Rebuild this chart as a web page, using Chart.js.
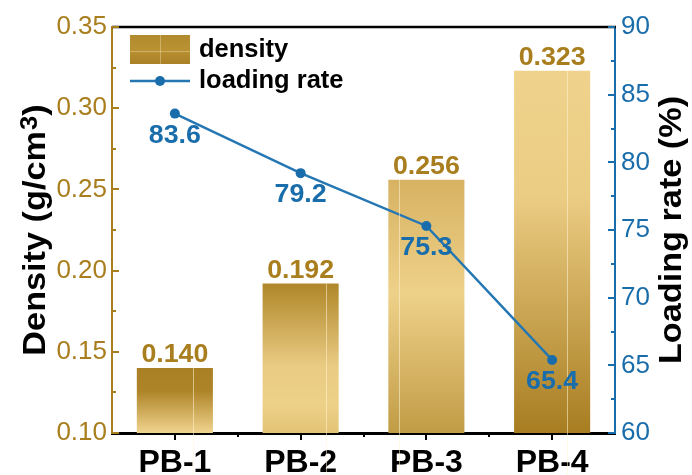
<!DOCTYPE html>
<html>
<head>
<meta charset="utf-8">
<script src="https://cdn.jsdelivr.net/npm/chart.js@4.4.1/dist/chart.umd.min.js"></script>
<style>
  html, body { margin: 0; padding: 0; background: #ffffff; }
  canvas { display: block; }
</style>
</head>
<body>
<canvas id="chart" width="692" height="475"></canvas>
<script>
// ---- data ----
const categories = ['PB-1', 'PB-2', 'PB-3', 'PB-4'];
const density = [0.140, 0.192, 0.256, 0.323];        // g/cm3
const loadingRate = [83.6, 79.2, 75.3, 65.4];        // %
const densityTicks = [0.10, 0.15, 0.20, 0.25, 0.30, 0.35];
const rateTicks = [60, 65, 70, 75, 80, 85, 90];

// ---- styling ----
const FONT = '"Liberation Sans", Arial, Helvetica, sans-serif';
const GOLD = '#a97e1e';
const BLUE = '#1a6dab';
const LINE_BLUE = '#2577b3';
const STRETCH = 1.07;   // slightly wide lettering for the annotations

// vertical shading of each bar, top (0) to bottom (1)
const barShades = [
  [[0, '#aa8024'], [0.35, '#ae8428'], [1, '#f0d48e']],
  [[0, '#b08729'], [0.55, '#e9cb83'], [0.8, '#eed189'], [1, '#e3c476']],
  [[0, '#d7b262'], [0.45, '#eed189'], [1, '#c19c46']],
  [[0, '#efd38c'], [0.35, '#ebcc83'], [1, '#a87d21']]
];
// position of the faint highlight streak across each bar (fraction of width)
const barStreak = [0.74, 0.83, 0.14, 0.70];

function barFill(ctx) {
  const chart = ctx.chart;
  const i = ctx.dataIndex;
  const ys = chart.scales.y;
  if (!ys || i === undefined || !chart.chartArea) return '#d4b060';
  const top = ys.getPixelForValue(density[i]);
  const bottom = ys.getPixelForValue(ys.min);
  const g = chart.ctx.createLinearGradient(0, top, 0, bottom);
  barShades[i].forEach(([o, c]) => g.addColorStop(o, c));
  return g;
}

// text drawn a little wider than its nominal size
function wideText(ctx, text, x, y, stretch) {
  ctx.save();
  ctx.translate(x, y);
  ctx.scale(stretch, 1);
  ctx.fillText(text, 0, 0);
  ctx.restore();
}

// inward tick marks, top frame line, streaks on bars
const framePlugin = {
  id: 'frame',
  afterDatasetsDraw(chart) {
    const ctx = chart.ctx;
    ctx.save();
    chart.getDatasetMeta(0).data.forEach((bar, i) => {
      const left = bar.x - bar.width / 2;
      const sx = Math.round(left + bar.width * barStreak[i]) + 0.5;
      ctx.strokeStyle = 'rgba(255, 244, 214, 0.55)';
      ctx.lineWidth = 1;
      ctx.beginPath();
      ctx.moveTo(sx, bar.y);
      ctx.lineTo(sx, bar.base);
      ctx.stroke();
    });
    ctx.restore();
  },
  afterDraw(chart) {
    const { ctx, chartArea: a } = chart;
    const x = chart.scales.x, y = chart.scales.y, y2 = chart.scales.y2;
    ctx.save();
    ctx.lineCap = 'butt';

    // top frame
    ctx.strokeStyle = '#000000';
    ctx.lineWidth = 2.5;
    ctx.beginPath();
    ctx.moveTo(a.left, a.top);
    ctx.lineTo(a.right + 1, a.top);
    ctx.stroke();

    // left axis ticks (inward)
    ctx.strokeStyle = GOLD;
    ctx.lineWidth = 2;
    densityTicks.forEach((v, i) => {
      const py = Math.round(y.getPixelForValue(v));
      ctx.beginPath(); ctx.moveTo(a.left, py); ctx.lineTo(a.left + 7, py); ctx.stroke();
      if (i < densityTicks.length - 1) {
        const pm = Math.round(y.getPixelForValue((v + densityTicks[i + 1]) / 2));
        ctx.beginPath(); ctx.moveTo(a.left, pm); ctx.lineTo(a.left + 4, pm); ctx.stroke();
      }
    });

    // right axis ticks (inward)
    ctx.strokeStyle = BLUE;
    rateTicks.forEach((v, i) => {
      const py = Math.round(y2.getPixelForValue(v));
      ctx.beginPath(); ctx.moveTo(a.right, py); ctx.lineTo(a.right - 7, py); ctx.stroke();
      if (i < rateTicks.length - 1) {
        const pm = Math.round(y2.getPixelForValue((v + rateTicks[i + 1]) / 2));
        ctx.beginPath(); ctx.moveTo(a.right, pm); ctx.lineTo(a.right - 4, pm); ctx.stroke();
      }
    });

    // bottom axis ticks (outward): major at categories, minor between
    ctx.strokeStyle = '#000000';
    ctx.lineWidth = 2;
    categories.forEach((c, i) => {
      const px = Math.round(x.getPixelForValue(i));
      ctx.beginPath(); ctx.moveTo(px, a.bottom); ctx.lineTo(px, a.bottom + 7); ctx.stroke();
      if (i > 0) {
        const pm = Math.round((x.getPixelForValue(i - 1) + x.getPixelForValue(i)) / 2);
        ctx.beginPath(); ctx.moveTo(pm, a.bottom); ctx.lineTo(pm, a.bottom + 4); ctx.stroke();
      }
    });
    ctx.restore();
  }
};

// value labels on bars and points
const valueLabels = {
  id: 'valueLabels',
  afterDatasetsDraw(chart) {
    const ctx = chart.ctx;
    ctx.save();
    ctx.font = 'bold 25px ' + FONT;
    ctx.textAlign = 'center';

    ctx.fillStyle = GOLD;
    ctx.textBaseline = 'alphabetic';
    chart.getDatasetMeta(0).data.forEach((bar, i) => {
      wideText(ctx, density[i].toFixed(3), bar.x, bar.y - 6, STRETCH);
    });

    ctx.fillStyle = BLUE;
    ctx.textBaseline = 'middle';
    chart.getDatasetMeta(1).data.forEach((pt, i) => {
      wideText(ctx, loadingRate[i].toFixed(1), pt.x, pt.y + 22, STRETCH);
    });
    ctx.restore();
  }
};

// axis titles (with superscript) and legend
const annotations = {
  id: 'annotations',
  afterDraw(chart) {
    const { ctx, chartArea: a } = chart;
    const midY = (a.top + a.bottom) / 2;
    ctx.save();

    // left title: Density (g/cm³)
    const big = 'bold 32px ' + FONT;
    const sup = 'bold 24px ' + FONT;
    ctx.fillStyle = '#000000';
    ctx.textBaseline = 'alphabetic';
    ctx.textAlign = 'left';
    ctx.font = big;
    const p1 = 'Density (g/cm', p3 = ')';
    const w1 = ctx.measureText(p1).width;
    const w3 = ctx.measureText(p3).width;
    ctx.font = sup;
    const w2 = ctx.measureText('3').width;
    const total = (w1 + w2 + 1 + w3) * STRETCH;
    ctx.save();
    ctx.translate(45, midY);
    ctx.rotate(-Math.PI / 2);
    ctx.translate(-total / 2, 0);
    ctx.scale(STRETCH, 1);
    let sx = 0;
    ctx.font = big; ctx.fillText(p1, sx, 0); sx += w1;
    ctx.font = sup; ctx.fillText('3', sx + 1, -8); sx += w2 + 1;
    ctx.font = big; ctx.fillText(p3, sx, 0);
    ctx.restore();

    // right title: Loading rate (%)
    ctx.save();
    ctx.translate(681, midY);
    ctx.rotate(-Math.PI / 2);
    ctx.font = big;
    ctx.textAlign = 'center';
    wideText(ctx, 'Loading rate (%)', 0, 0, STRETCH);
    ctx.restore();

    // legend
    const lx = 130, lw = 60;
    const g = ctx.createLinearGradient(0, 35, 0, 64);
    g.addColorStop(0, '#b28a2e');
    g.addColorStop(0.5, '#b99232');
    g.addColorStop(1, '#aa8026');
    ctx.fillStyle = g;
    ctx.fillRect(lx, 35, lw, 29);
    ctx.strokeStyle = 'rgba(255, 240, 205, 0.35)';
    ctx.lineWidth = 1;
    ctx.beginPath();
    ctx.moveTo(lx + 30.5, 35); ctx.lineTo(lx + 30.5, 64);
    ctx.moveTo(lx, 51.5); ctx.lineTo(lx + lw, 51.5);
    ctx.stroke();

    ctx.strokeStyle = LINE_BLUE;
    ctx.lineWidth = 2.5;
    ctx.beginPath(); ctx.moveTo(lx, 81); ctx.lineTo(lx + lw, 81); ctx.stroke();
    ctx.fillStyle = BLUE;
    ctx.beginPath(); ctx.arc(lx + 30, 81, 5, 0, Math.PI * 2); ctx.fill();

    ctx.fillStyle = '#000000';
    ctx.font = 'bold 25.5px ' + FONT;
    ctx.textAlign = 'left';
    ctx.textBaseline = 'middle';
    ctx.fillText(chart.data.datasets[0].label, 199, 50);
    ctx.fillText(chart.data.datasets[1].label, 199, 81);
    ctx.restore();
  }
};

new Chart(document.getElementById('chart'), {
  data: {
    labels: categories,
    datasets: [
      {
        type: 'bar',
        label: 'density',
        data: density,
        yAxisID: 'y',
        backgroundColor: barFill,
        borderWidth: 0,
        barPercentage: 0.605,
        categoryPercentage: 1,
        order: 2
      },
      {
        type: 'line',
        label: 'loading rate',
        data: loadingRate,
        yAxisID: 'y2',
        borderColor: LINE_BLUE,
        borderWidth: 2.5,
        backgroundColor: BLUE,
        pointRadius: 5,
        pointHoverRadius: 5,
        pointBorderWidth: 0,
        tension: 0,
        order: 1
      }
    ]
  },
  options: {
    responsive: false,
    animation: false,
    events: [],
    layout: { padding: { top: 27, left: 0, right: 0, bottom: 0 } },
    plugins: { legend: { display: false }, tooltip: { enabled: false } },
    scales: {
      x: {
        position: 'bottom',
        offset: true,
        grid: { display: false, drawTicks: false },
        border: { display: true, color: '#000000', width: 3 },
        ticks: {
          color: '#000000',
          font: { family: FONT, size: 32, weight: 'bold' },
          padding: 11,
          maxRotation: 0
        },
        afterFit(s) { s.height = 42; }
      },
      y: {
        position: 'left',
        min: densityTicks[0],
        max: densityTicks[densityTicks.length - 1],
        afterBuildTicks(s) { s.ticks = densityTicks.map(v => ({ value: v })); },
        grid: { display: false, drawTicks: false },
        border: { display: true, color: GOLD, width: 2 },
        ticks: {
          color: GOLD,
          font: { family: FONT, size: 26 },
          padding: 5,
          callback: v => Number(v).toFixed(2)
        },
        afterFit(s) { s.width = 112; }
      },
      y2: {
        position: 'right',
        min: rateTicks[0],
        max: rateTicks[rateTicks.length - 1],
        afterBuildTicks(s) { s.ticks = rateTicks.map(v => ({ value: v })); },
        grid: { display: false, drawTicks: false },
        border: { display: true, color: BLUE, width: 2 },
        ticks: {
          color: BLUE,
          font: { family: FONT, size: 26 },
          padding: 6,
          callback: v => String(v)
        },
        afterFit(s) { s.width = 77; }
      }
    }
  },
  plugins: [framePlugin, valueLabels, annotations]
});
</script>
</body>
</html>
